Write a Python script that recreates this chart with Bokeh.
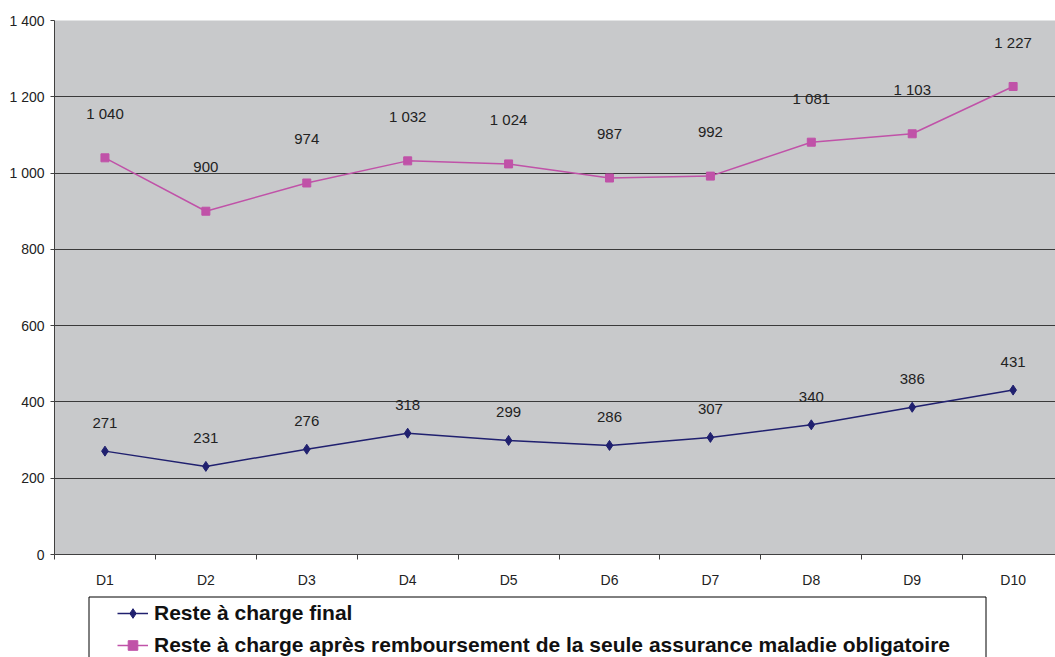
from bokeh.plotting import figure
from bokeh.layouts import column
from bokeh.models import (Range1d, FixedTicker, Legend, LegendItem, ColumnDataSource)
from bokeh.core.properties import value
from bokeh.embed import file_html
from bokeh.resources import INLINE

categories = ["D1", "D2", "D3", "D4", "D5", "D6", "D7", "D8", "D9", "D10"]
reste_final = [271, 231, 276, 318, 299, 286, 307, 340, 386, 431]
reste_amo = [1040, 900, 974, 1032, 1024, 987, 992, 1081, 1103, 1227]
y_ticks = [0, 200, 400, 600, 800, 1000, 1200, 1400]
y_tick_labels = ["0", "200", "400", "600", "800", "1 000", "1 200", "1 400"]
series_names = ["Reste à charge final",
                "Reste à charge après remboursement de la seule assurance maladie obligatoire"]

FONT = "Liberation Sans"
NAVY = "#20206F"
MAGENTA = "#C052A8"


def fmt(v):
    return f"{v:,}".replace(",", " ")


xs = list(range(1, len(categories) + 1))

p = figure(width=1055, height=590, output_backend="svg", toolbar_location=None,
           x_range=Range1d(0.5, 10.42), y_range=Range1d(0, 1400),
           min_border_left=54, min_border_right=0, min_border_top=20,
           min_border_bottom=33)
p.background_fill_color = "#C8C9CB"
p.border_fill_color = "white"
p.outline_line_color = None

p.xaxis.ticker = FixedTicker(ticks=xs, minor_ticks=[x + 0.5 for x in range(0, 11)])
p.xaxis.major_label_overrides = {x: c for x, c in zip(xs, categories)}
p.xaxis.major_tick_line_color = None
p.xaxis.major_tick_out = 0
p.xaxis.major_tick_in = 0
p.xaxis.minor_tick_line_color = "#404040"
p.xaxis.minor_tick_out = 5
p.xaxis.minor_tick_in = 0
p.xaxis.major_label_standoff = 12
p.yaxis.ticker = FixedTicker(ticks=y_ticks)
p.yaxis.major_label_overrides = {t: l for t, l in zip(y_ticks, y_tick_labels)}
p.yaxis.minor_tick_line_color = None
p.yaxis.major_tick_line_color = "#404040"
p.yaxis.major_tick_out = 4
p.yaxis.major_tick_in = 0
p.yaxis.major_label_standoff = 6
for ax in (p.xaxis, p.yaxis):
    ax.axis_line_color = "#404040"
    ax.major_label_text_font = FONT
    ax.major_label_text_font_size = "14px"
    ax.major_label_text_color = "#222222"

p.xgrid.grid_line_color = None
p.ygrid.grid_line_color = "#3A3A3A"
p.ygrid.grid_line_width = 1

src1 = ColumnDataSource(dict(x=xs, y=reste_final, lab=[fmt(v) for v in reste_final]))
src2 = ColumnDataSource(dict(x=xs, y=reste_amo, lab=[fmt(v) for v in reste_amo]))

p.line("x", "y", source=src1, line_color=NAVY, line_width=1.5)
p.scatter("x", "y", source=src1, marker="diamond", size=10,
          fill_color=NAVY, line_color=NAVY)
p.line("x", "y", source=src2, line_color=MAGENTA, line_width=1.5)
p.scatter("x", "y", source=src2, marker="square", size=8,
          fill_color=MAGENTA, line_color=MAGENTA)

p.text("x", "y", text="lab", source=src1, x_offset=0, y_offset=-28,
       text_align="center", text_baseline="middle",
       text_font=value(FONT), text_font_size="15px", text_color="#222222")
p.text("x", "y", text="lab", source=src2, x_offset=0, y_offset=-44,
       text_align="center", text_baseline="middle",
       text_font=value(FONT), text_font_size="15px", text_color="#222222")

# legend panel below the chart (its ranges are in pixel-like units)
q = figure(width=1055, height=67, output_backend="svg", toolbar_location=None,
           x_range=Range1d(54, 1055), y_range=Range1d(657, 590),
           min_border_left=54, min_border_right=0, min_border_top=0,
           min_border_bottom=0, x_axis_type=None, y_axis_type=None)
q.grid.visible = False
q.outline_line_color = None
q.background_fill_color = "white"
q.border_fill_color = "white"

# legend frame
q.quad(left=[88.5], right=[985.5], top=[596.5], bottom=[700],
       fill_color="white", line_color="black", line_width=1)

# proxy renderers for legend glyphs (outside the visible panel range)
ql1 = q.line("x", "y", source=src1, line_color=NAVY, line_width=1.5)
qm1 = q.scatter("x", "y", source=src1, marker="diamond", size=10,
                fill_color=NAVY, line_color=NAVY)
ql2 = q.line("x", "y", source=src2, line_color=MAGENTA, line_width=1.5)
qm2 = q.scatter("x", "y", source=src2, marker="square", size=8,
                fill_color=MAGENTA, line_color=MAGENTA)

legend = Legend(items=[LegendItem(label=series_names[0], renderers=[ql1, qm1]),
                       LegendItem(label=series_names[1], renderers=[ql2, qm2])],
                location=(63, 0), orientation="vertical")
legend.label_text_font = FONT
legend.label_text_font_style = "bold"
legend.label_text_font_size = "21px"
legend.label_text_color = "#111111"
legend.glyph_width = 31
legend.glyph_height = 24
legend.label_height = 24
legend.label_standoff = 6
legend.padding = 0
legend.spacing = 8
legend.margin = 0
legend.border_line_color = None
legend.background_fill_alpha = 0
q.add_layout(legend, "center")

layout = column(p, q, spacing=0)
open("out.html", "w").write(file_html(layout, INLINE))
